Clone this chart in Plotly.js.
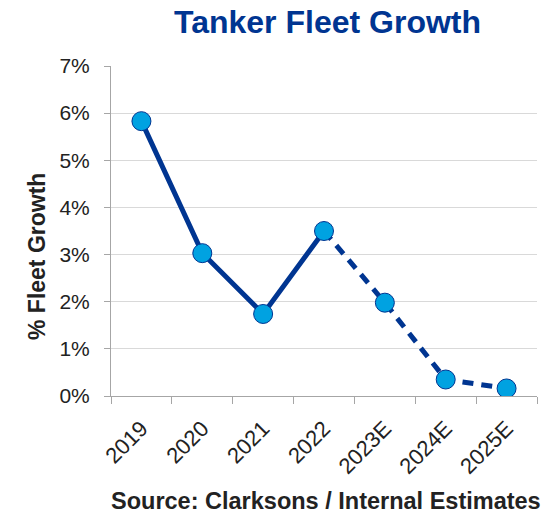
<!DOCTYPE html>
<html>
<head>
<meta charset="utf-8">
<script src="https://cdn.plot.ly/plotly-3.0.1.min.js"></script>
<style>html,body{margin:0;padding:0;background:#fff;}#chart{width:557px;height:515px;}</style>
</head>
<body>
<div id="chart"></div>
<script>
const years = ["2019", "2020", "2021", "2022", "2023E", "2024E", "2025E"];
const growth = [5.83, 3.03, 1.74, 3.50, 1.98, 0.35, 0.16];
const actualYears = years.slice(0, 4);
const actualGrowth = growth.slice(0, 4);
const estYears = years.slice(3);
const estGrowth = growth.slice(3);

const navy = "#003591";
const cyan = "#00a2e1";

const traces = [
  {x: actualYears, y: actualGrowth, type: "scatter", mode: "lines",
   line: {color: navy, width: 5}, hoverinfo: "skip"},
  {x: estYears, y: estGrowth, type: "scatter", mode: "lines",
   line: {color: navy, width: 5, dash: "11px,8px"}, hoverinfo: "skip"},
  {x: years, y: growth, type: "scatter", mode: "markers",
   marker: {color: cyan, size: 19, line: {color: navy, width: 1}}}
];

const layout = {
  width: 557, height: 515,
  margin: {l: 111, r: 20, t: 66, b: 119},
  showlegend: false,
  paper_bgcolor: "#fff", plot_bgcolor: "#fff",
  font: {family: "Liberation Sans, Arial, sans-serif", color: "#222"},
  title: {text: "<b>Tanker Fleet Growth</b>", font: {size: 32, color: "#003591"},
          x: 0.588, xanchor: "center", y: 0.958, yanchor: "middle"},
  xaxis: {type: "category", range: [-0.5, 6.5], tickson: "boundaries",
          ticks: "outside", ticklen: 7, tickcolor: "#a6a6a6", tickwidth: 1,
          showline: true, linecolor: "#a6a6a6", linewidth: 1, ticklabelstandoff: 10,
          showgrid: false, tickangle: -45, tickfont: {size: 22, color: "#222"}},
  yaxis: {range: [0, 7], dtick: 1, ticksuffix: "%",
          ticks: "outside", ticklen: 6, tickcolor: "#a6a6a6", ticklabelstandoff: 10,
          showline: true, linecolor: "#a6a6a6", linewidth: 1,
          showgrid: true, gridcolor: "#d9d9d9", gridwidth: 1, zeroline: false,
          tickfont: {size: 21, color: "#222"}},
  annotations: [{
    text: "<b>% Fleet Growth</b>", textangle: -90,
    xref: "paper", yref: "paper", x: 0, xshift: -74, y: 0.5, yshift: -26,
    xanchor: "center", yanchor: "middle", showarrow: false,
    font: {size: 23, color: "#222"}
  }, {
    text: "<b>Source: Clarksons / Internal Estimates</b>",
    xref: "paper", yref: "paper", x: 0.505, y: 0, yshift: -105,
    xanchor: "center", yanchor: "middle", showarrow: false,
    font: {size: 23.5, color: "#222"}
  }]
};

Plotly.newPlot("chart", traces, layout, {displayModeBar: false, staticPlot: true});
</script>
</body>
</html>
